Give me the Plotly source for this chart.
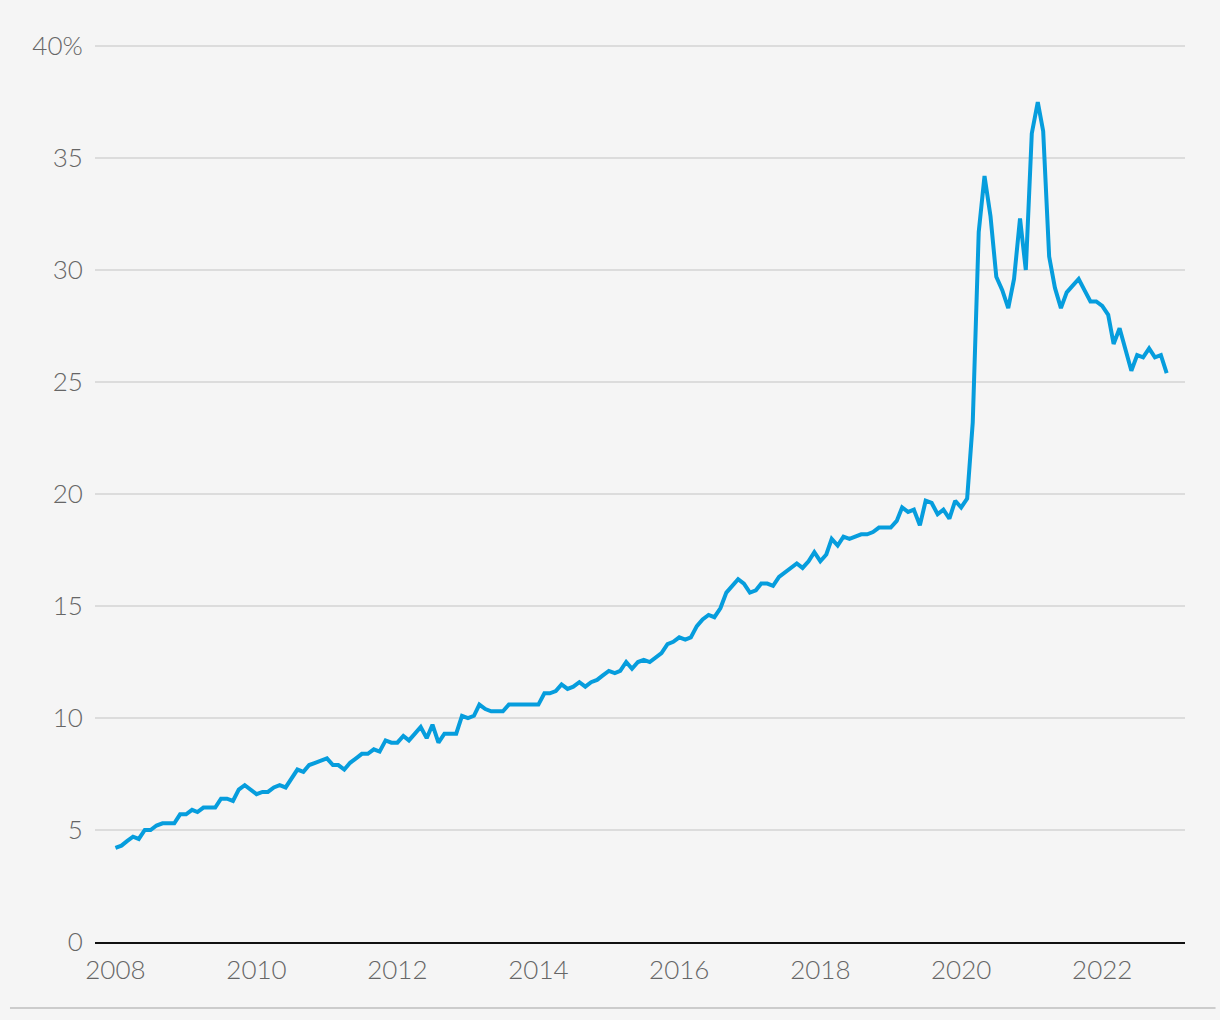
import pandas as pd
import plotly.graph_objects as go

# Monthly series, Jan 2008 - Dec 2022 (percent)
start_month = "2008-01-01"
values = [
    4.2, 4.3, 4.5, 4.7, 4.6, 5.0, 5.0, 5.2, 5.3, 5.3, 5.3, 5.7,
    5.7, 5.9, 5.8, 6.0, 6.0, 6.0, 6.4, 6.4, 6.3, 6.8, 7.0, 6.8,
    6.6, 6.7, 6.7, 6.9, 7.0, 6.9, 7.3, 7.7, 7.6, 7.9, 8.0, 8.1,
    8.2, 7.9, 7.9, 7.7, 8.0, 8.2, 8.4, 8.4, 8.6, 8.5, 9.0, 8.9,
    8.9, 9.2, 9.0, 9.3, 9.6, 9.1, 9.7, 8.9, 9.3, 9.3, 9.3, 10.1,
    10.0, 10.1, 10.6, 10.4, 10.3, 10.3, 10.3, 10.6, 10.6, 10.6, 10.6, 10.6,
    10.6, 11.1, 11.1, 11.2, 11.5, 11.3, 11.4, 11.6, 11.4, 11.6, 11.7, 11.9,
    12.1, 12.0, 12.1, 12.5, 12.2, 12.5, 12.6, 12.5, 12.7, 12.9, 13.3, 13.4,
    13.6, 13.5, 13.6, 14.1, 14.4, 14.6, 14.5, 14.9, 15.6, 15.9, 16.2, 16.0,
    15.6, 15.7, 16.0, 16.0, 15.9, 16.3, 16.5, 16.7, 16.9, 16.7, 17.0, 17.4,
    17.0, 17.3, 18.0, 17.7, 18.1, 18.0, 18.1, 18.2, 18.2, 18.3, 18.5, 18.5,
    18.5, 18.8, 19.4, 19.2, 19.3, 18.6, 19.7, 19.6, 19.1, 19.3, 18.9, 19.7,
    19.4, 19.8, 23.2, 31.7, 34.2, 32.4, 29.7, 29.1, 28.3, 29.6, 32.3, 30.0,
    36.1, 37.5, 36.2, 30.6, 29.2, 28.3, 29.0, 29.3, 29.6, 29.1, 28.6, 28.6,
    28.4, 28.0, 26.7, 27.4, 26.4, 25.5, 26.2, 26.1, 26.5, 26.1, 26.2, 25.4,
]
dates = pd.date_range(start_month, periods=len(values), freq="MS")

y_tickvals = [0, 5, 10, 15, 20, 25, 30, 35, 40]
y_ticktext = ["0", "5", "10", "15", "20", "25", "30", "35", "40%"]
x_tickvals = ["2008-01-01", "2010-01-01", "2012-01-01", "2014-01-01",
              "2016-01-01", "2018-01-01", "2020-01-01", "2022-01-01"]
x_ticktext = ["2008", "2010", "2012", "2014", "2016", "2018", "2020", "2022"]

BG = "#f5f5f5"
TEXT = "#666666"
FONT = "Lato, 'Open Sans', sans-serif"

fig = go.Figure()
fig.add_trace(go.Scatter(
    x=dates, y=values, mode="lines",
    line=dict(color="#069ddd", width=4),
    hoverinfo="skip", showlegend=False,
))

fig.update_layout(
    width=1220, height=1020,
    paper_bgcolor=BG, plot_bgcolor=BG,
    margin=dict(l=95, r=35, t=42, b=78),
    font=dict(family=FONT, size=26, color=TEXT, weight=300),
    xaxis=dict(
        type="date",
        range=["2007-09-17", "2023-03-06"],
        tickvals=x_tickvals, ticktext=x_ticktext,
        showgrid=False, zeroline=False,
        showline=True, linecolor="#111111", linewidth=2,
        ticks="outside", ticklen=4, tickcolor="rgba(0,0,0,0)",
        tickfont=dict(family=FONT, size=26, color=TEXT, weight=300),
    ),
    yaxis=dict(
        range=[0, 40.18],
        tickvals=y_tickvals, ticktext=y_ticktext,
        showgrid=True, gridcolor="#dcdcdc", gridwidth=1.5,
        zeroline=False, showline=False,
        ticks="outside", ticklen=6, tickcolor="rgba(0,0,0,0)",
        tickfont=dict(family=FONT, size=26, color=TEXT, weight=300),
    ),
    shapes=[dict(
        type="line", xref="paper", yref="paper",
        x0=-0.078, x1=1.028, y0=-0.0733, y1=-0.0733,
        line=dict(color="#cccccc", width=2),
    )],
)

fig.write_html("out.html")
